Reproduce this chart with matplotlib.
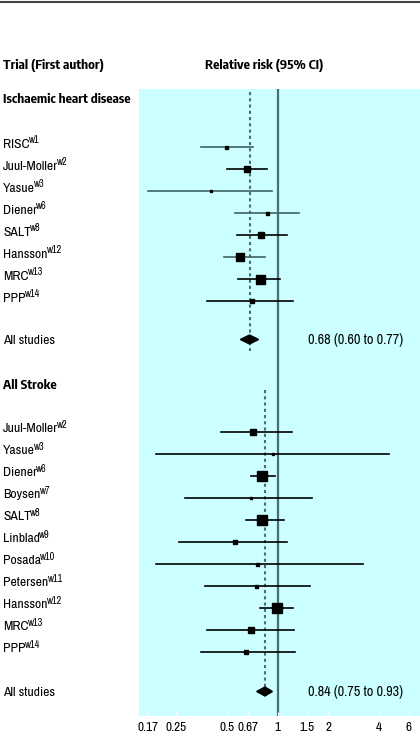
import matplotlib
matplotlib.use("Agg")
import matplotlib.pyplot as plt
from matplotlib.transforms import blended_transform_factory
from matplotlib.lines import Line2D
from matplotlib.patches import Polygon

REG = ['Archivo Narrow', 'DejaVu Sans']
BOLD = ['Encode Sans Condensed', 'DejaVu Sans']
plt.rcParams['font.family'] = REG

# ---- data ----
ihd_labels = ["RISC", "Juul-Moller", "Yasue", "Diener", "SALT", "Hansson", "MRC", "PPP"]
ihd_refs = ["w1", "w2", "w3", "w6", "w8", "w12", "w13", "w14"]
ihd_rr = [0.49, 0.66, 0.40, 0.86, 0.80, 0.60, 0.78, 0.70]
ihd_lo = [0.35, 0.50, 0.17, 0.56, 0.57, 0.48, 0.58, 0.38]
ihd_hi = [0.71, 0.86, 0.92, 1.33, 1.13, 0.84, 1.03, 1.24]
ihd_weight = [3, 5.5, 2.5, 3, 5.5, 8, 9, 4]
ihd_pooled = (0.68, 0.60, 0.77)

str_labels = ["Juul-Moller", "Yasue", "Diener", "Boysen", "SALT", "Linblad", "Posada",
              "Petersen", "Hansson", "MRC", "PPP"]
str_refs = ["w2", "w3", "w6", "w7", "w8", "w9", "w10", "w11", "w12", "w13", "w14"]
str_rr = [0.71, 0.94, 0.81, 0.69, 0.81, 0.56, 0.75, 0.74, 0.99, 0.69, 0.65]
str_lo = [0.46, 0.19, 0.69, 0.28, 0.65, 0.26, 0.19, 0.37, 0.78, 0.38, 0.35]
str_hi = [1.21, 4.57, 0.97, 1.59, 1.09, 1.13, 3.22, 1.55, 1.23, 1.25, 1.27]
str_weight = [6, 2.5, 10, 2.5, 10, 5, 3, 3, 10, 5.5, 4]
str_pooled = (0.84, 0.75, 0.93)

xticks = [0.17, 0.25, 0.5, 0.67, 1, 1.5, 2, 4, 6]
xticklabels = ["0.17", "0.25", "0.5", "0.67", "1", "1.5", "2", "4", "6"]

# ---- styles ----
TEAL = '#3f6464'
ihd_line_colors = [TEAL, 'black', TEAL, TEAL, 'black', TEAL, 'black', 'black']
str_line_colors = ['black'] * len(str_labels)

# ---- layout (pixel rows) ----
W, H = 420, 736
fig = plt.figure(figsize=(W / 100, H / 100), dpi=100)
ax_left, ax_top, ax_bot = 139, 89, 716
ax = fig.add_axes([ax_left / W, 1 - ax_bot / H, 1 - ax_left / W, (ax_bot - ax_top) / H])
ax.set_facecolor('#ccffff')
ax.set_xscale('log')
ax.set_xlim(0.15, 7.0)
ax.set_ylim(ax_bot, ax_top)
for s in ax.spines.values():
    s.set_visible(False)
ax.set_yticks([])
ax.set_xticks(xticks)
ax.set_xticklabels(xticklabels)
ax.xaxis.set_minor_locator(matplotlib.ticker.NullLocator())
ax.tick_params(axis='x', direction='in', length=3, color='white', labelsize=9.5, pad=4)

line_col = '#4a6e6e'
step = 22.0
ihd_head_y = 102.7
ihd_y = [147 + i * step for i in range(len(ihd_labels))]
ihd_pool_y = ihd_y[-1] + 38.5
str_head_y = 389.3
str_y = [432 + i * step for i in range(len(str_labels))]
str_pool_y = str_y[-1] + 39.5

ax.axvline(1, color=line_col, lw=1.6, zorder=1)
ax.plot([ihd_pooled[0]] * 2, [ax_top + 3, ihd_pool_y + 11], color=line_col, lw=1.5,
        ls=(0, (1.5, 1.5)), zorder=1)
ax.plot([str_pooled[0]] * 2, [str_head_y + 1, str_pool_y], color=line_col, lw=1.5,
        ls=(0, (1.5, 1.5)), zorder=1)

trans = blended_transform_factory(fig.transFigure, ax.transData)
FS = 9.8
SUP = 7.3

def draw_group(ys, labels, refs, rr, lo, hi, wt, colors, pooled, pool_y):
    for y, lab, ref, r, l, h, w, c in zip(ys, labels, refs, rr, lo, hi, wt, colors):
        ax.plot([l, h], [y, y], color=c, lw=1.2, zorder=2)
        ax.plot([r], [y], marker='s', ms=w * 0.72, color='black', mec='black', zorder=3)
        t = ax.text(3 / W, y + 0.5, lab, transform=trans, ha='left', va='baseline',
                    fontsize=FS, clip_on=False)
        ax.annotate(ref, xy=(1, 0), xycoords=t, xytext=(-0.4, 3.0),
                    textcoords='offset points', ha='left', va='bottom', fontsize=SUP,
                    annotation_clip=False)
    p, pl, ph = pooled
    dh = 4.5
    diamond = Polygon([[pl, pool_y], [p, pool_y - dh], [ph, pool_y], [p, pool_y + dh]],
                      closed=True, color='black', zorder=3)
    ax.add_patch(diamond)
    ax.text(3 / W, pool_y + 4.5, "All studies", transform=trans, ha='left', va='baseline',
            fontsize=FS, clip_on=False)
    ax.text(403 / W, pool_y + 4.5, f"{p:.2f} ({pl:.2f} to {ph:.2f})", transform=trans,
            ha='right', va='baseline', fontsize=FS + 0.4, clip_on=False)

draw_group(ihd_y, ihd_labels, ihd_refs, ihd_rr, ihd_lo, ihd_hi, ihd_weight, ihd_line_colors,
           ihd_pooled, ihd_pool_y)
draw_group(str_y, str_labels, str_refs, str_rr, str_lo, str_hi, str_weight, str_line_colors,
           str_pooled, str_pool_y)

ax.text(3 / W, ihd_head_y, "Ischaemic heart disease", transform=trans, ha='left',
        va='baseline', fontsize=9.5, fontweight='bold', family=BOLD, clip_on=False)
ax.text(3 / W, str_head_y, "All Stroke", transform=trans, ha='left', va='baseline',
        fontsize=9.5, fontweight='bold', family=BOLD, clip_on=False)

fig.text(3 / W, 1 - 68.5 / H, "Trial (First author)", ha='left', va='baseline', fontsize=9.5,
         fontweight='bold', family=BOLD)
fig.text(205 / W, 1 - 68.5 / H, "Relative risk (95% CI)", ha='left', va='baseline',
         fontsize=9.5, fontweight='bold', family=BOLD)
fig.add_artist(Line2D([0, 1], [1 - 1.5 / H, 1 - 1.5 / H], color='#444444', lw=1.5,
                      transform=fig.transFigure))

fig.savefig("out.png", dpi=100)
